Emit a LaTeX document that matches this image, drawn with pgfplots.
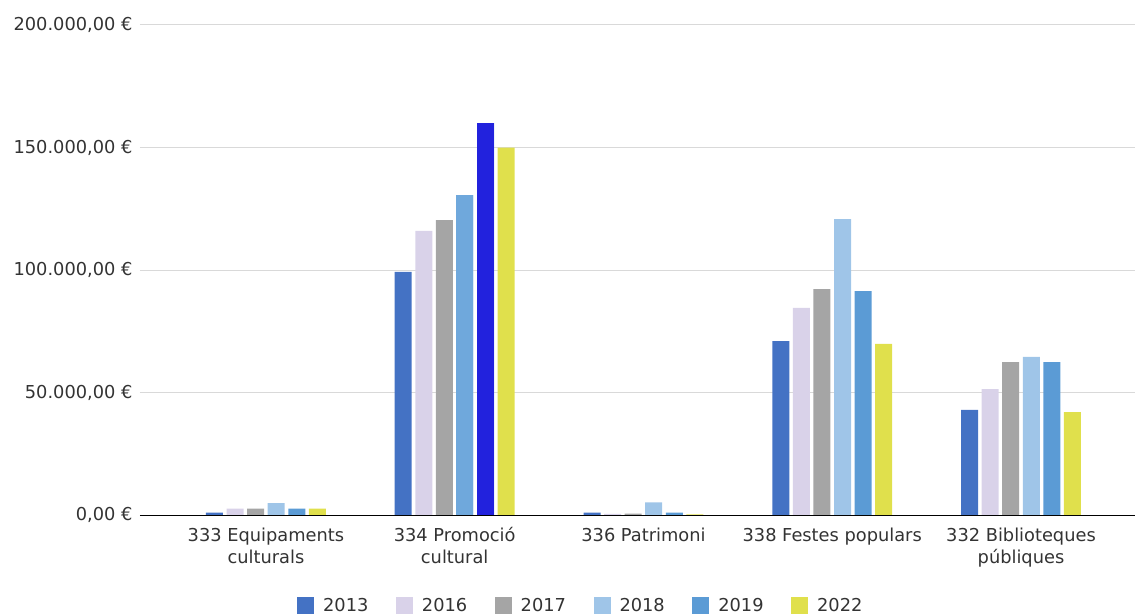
\documentclass[border=0pt]{standalone}
\usepackage{fontspec}
\setmainfont{DejaVu Sans}
\usepackage{pgfplots}
\pgfplotsset{compat=1.18}
\definecolor{c2013}{HTML}{4472C4}
\definecolor{c2016}{HTML}{D9D2E9}
\definecolor{c2017}{HTML}{A5A5A5}
\definecolor{c2018}{HTML}{9FC5E8}
\definecolor{c2019}{HTML}{5B9BD5}
\definecolor{c2022}{HTML}{E0E04C}
\definecolor{hl2018}{HTML}{6FA8DC}
\definecolor{hl2019}{HTML}{2222DD}
\definecolor{gridgray}{HTML}{D9D9D9}
\definecolor{txt}{HTML}{333333}
\pgfplotsset{
    yb/.style={
        ybar, bar width=0.09, draw=none, bar shift=#1,
        legend image code/.code={\fill[##1] (0pt,-8.5pt) rectangle (17pt,8.5pt);},
    },
}
\begin{document}
\begin{tikzpicture}
\begin{axis}[
scale only axis,
width=995pt, height=490pt,
xmin=-0.667, xmax=4.604,
ymin=0, ymax=200000,
scaled y ticks=false,
axis line style={draw=none},
major tick length=0pt,
ymajorgrids,
grid style={gridgray, line width=1pt},
ytick={0,50000,100000,150000,200000},
yticklabels={{0,00 €},{50.000,00 €},{100.000,00 €},{150.000,00 €},{200.000,00 €}},
yticklabel style={anchor=east, xshift=-4pt, font=\fontsize{17.8}{21}\selectfont, text=txt},
xtick={0,1,2,3,4},
xticklabels={{333 Equipaments\\culturals},{334 Promoció\\cultural},{336 Patrimoni},{338 Festes populars},{332 Biblioteques\\públiques}},
xticklabel style={align=center, anchor=north, yshift=-9pt, font=\fontsize{17.8}{22}\selectfont, text=txt},
legend style={
    at={(0.443,-0.184)}, anchor=center, draw=none,
    font=\fontsize{17.8}{21}\selectfont, text=txt,
    /tikz/every odd column/.append style={column sep=7pt},
    /tikz/every even column/.append style={column sep=25.5pt},
},
legend columns=-1,
]
\addplot[yb=-0.2725, fill=c2013] coordinates {(0,1000) (1,99200) (2,1000) (3,71000) (4,42900)};
\addlegendentry{2013}
\addplot[yb=-0.1635, fill=c2016] coordinates {(0,2600) (1,116000) (2,500) (3,84500) (4,51400)};
\addlegendentry{2016}
\addplot[yb=-0.0545, fill=c2017] coordinates {(0,2600) (1,120400) (2,600) (3,92200) (4,62400)};
\addlegendentry{2017}
\addplot[yb=0.0545, fill=c2018] coordinates {(0,4800) (1,130600) (2,5200) (3,120800) (4,64500)};
\addlegendentry{2018}
\addplot[yb=0.1635, fill=c2019] coordinates {(0,2600) (1,160000) (2,1000) (3,91400) (4,62400)};
\addlegendentry{2019}
\addplot[yb=0.2725, fill=c2022] coordinates {(0,2600) (1,150000) (2,300) (3,69800) (4,42000)};
\addlegendentry{2022}
% highlighted bars in 334 Promoció cultural
\addplot[yb=0.0545, fill=hl2018, forget plot] coordinates {(1,130600)};
\addplot[yb=0.1635, fill=hl2019, forget plot] coordinates {(1,160000)};
\draw[black, line width=1pt] (rel axis cs:0,0) -- (rel axis cs:1,0);
\coordinate (SW) at (rel axis cs:0,0);
\coordinate (NE) at (rel axis cs:1,1);
\end{axis}
\pgfresetboundingbox
\path[use as bounding box] ([xshift=-140pt,yshift=-99pt]SW) rectangle ([yshift=25pt]NE);
\end{tikzpicture}
\end{document}
